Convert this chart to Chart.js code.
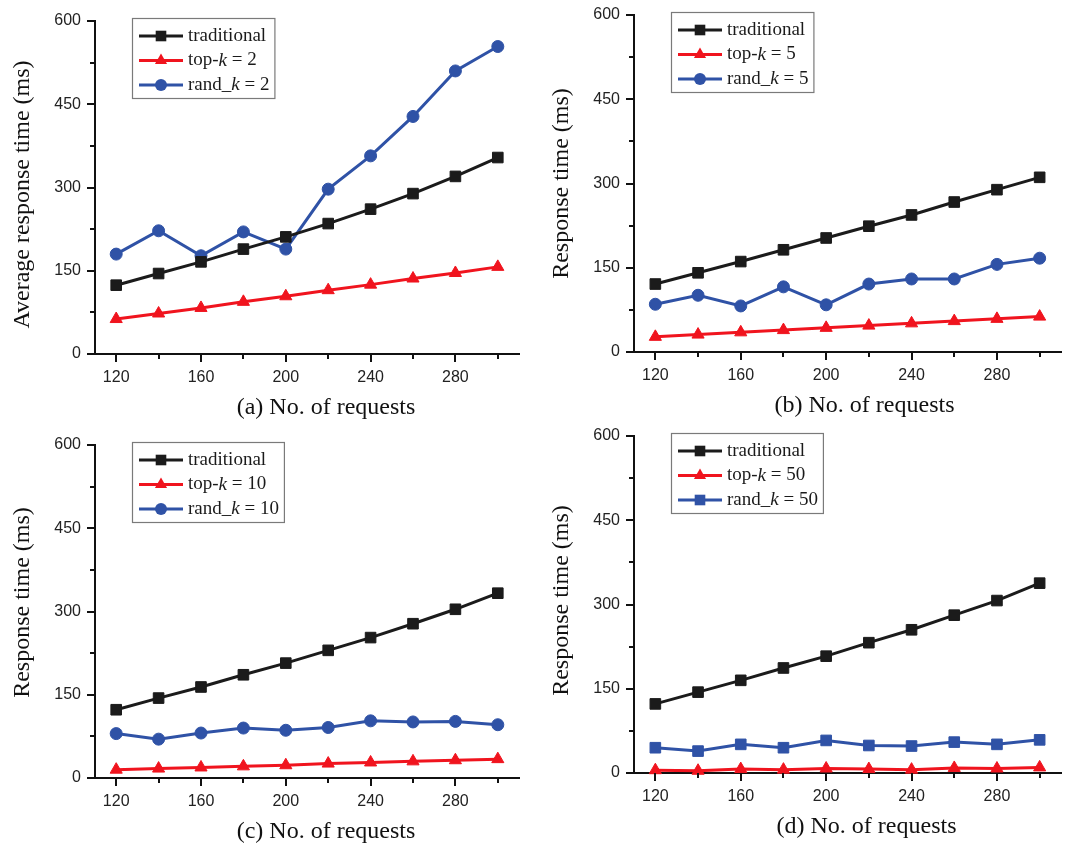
<!DOCTYPE html>
<html>
<head>
<meta charset="utf-8">
<script src="https://cdn.jsdelivr.net/npm/chart.js@4.4.1/dist/chart.umd.min.js"></script>
<style>
  body { margin: 0; background: #fff; }
  #wrap { position: relative; width: 1078px; height: 844px; }
  canvas { position: absolute; }
</style>
</head>
<body>
<div id="wrap">
  <canvas id="ca" width="539" height="420" style="left:0;top:0"></canvas>
  <canvas id="cb" width="539" height="420" style="left:539px;top:0"></canvas>
  <canvas id="cc" width="539" height="424" style="left:0;top:420px"></canvas>
  <canvas id="cd" width="539" height="424" style="left:539px;top:420px"></canvas>
</div>
<script>
// x values (no. of requests) and axis ticks
const requests = [120, 140, 160, 180, 200, 220, 240, 260, 280, 300];
const xTicks = [120, 140, 160, 180, 200, 220, 240, 260, 280, 300];
const yTicks = [0, 75, 150, 225, 300, 375, 450, 525, 600];

// (a) k = 2
const tradA = [124, 145, 166, 189, 211, 235, 261, 289, 320, 354];
const topA  = [63, 73, 83, 94, 104, 115, 125, 136, 146, 157];
const randA = [180, 222, 177, 220, 189, 297, 357, 428, 510, 554];
// (b) k = 5
const tradB = [121, 141, 161, 182, 203, 224, 244, 267, 289, 311];
const topB  = [27, 31, 35, 39, 43, 47, 51, 55, 59, 63];
const randB = [85, 101, 82, 116, 84, 121, 130, 130, 156, 167];
// (c) k = 10
const tradC = [123, 144, 164, 186, 207, 230, 253, 278, 304, 333];
const topC  = [15, 17, 19, 21, 23, 26, 28, 30, 32, 34];
const randC = [80, 70, 81, 90, 86, 91, 103, 101, 102, 96];
// (d) k = 50
const tradD = [123, 144, 165, 187, 208, 232, 255, 281, 307, 338];
const topD  = [5, 4, 7, 6, 8, 7, 6, 9, 8, 10];
const randD = [45, 39, 51, 45, 58, 49, 48, 55, 51, 59];

const BLACK = '#1b1b1b', RED = '#f0141e', BLUE = '#2f52a6';
const SERIF = '"Liberation Serif", "Times New Roman", serif';

function splitLabel(t) {
  const m = t.match(/^(.*[-_])k( = .*)$/);
  if (!m) return [{ t: t, it: false }];
  return [{ t: m[1], it: false }, { t: 'k', it: true }, { t: m[2], it: false }];
}

function drawMarker(ctx, style, r, x, y, color) {
  ctx.fillStyle = color;
  ctx.beginPath();
  if (style === 'rect') {
    const s = r * Math.SQRT1_2;
    ctx.rect(x - s, y - s, 2 * s, 2 * s);
  } else if (style === 'triangle') {
    let a = 0;
    ctx.moveTo(x + Math.sin(a) * r, y - Math.cos(a) * r);
    a += 2 * Math.PI / 3;
    ctx.lineTo(x + Math.sin(a) * r, y - Math.cos(a) * r);
    a += 2 * Math.PI / 3;
    ctx.lineTo(x + Math.sin(a) * r, y - Math.cos(a) * r);
    ctx.closePath();
  } else {
    ctx.arc(x, y, r, 0, Math.PI * 2);
  }
  ctx.fill();
}

// outward tick marks (long at labelled values) and the two axis titles
const frame = {
  id: 'frame',
  afterDraw(chart, args, o) {
    const ctx = chart.ctx, a = chart.chartArea, xs = chart.scales.x, ys = chart.scales.y;
    ctx.save();
    ctx.strokeStyle = '#111';
    ctx.lineWidth = 2;
    ctx.beginPath();
    xTicks.forEach(v => {
      const px = Math.round(xs.getPixelForValue(v));
      ctx.moveTo(px, a.bottom);
      ctx.lineTo(px, a.bottom + (v % 40 === 0 ? 8 : 5));
    });
    yTicks.forEach(v => {
      const py = Math.round(ys.getPixelForValue(v));
      ctx.moveTo(a.left, py);
      ctx.lineTo(a.left - (v % 150 === 0 ? 8 : 5), py);
    });
    ctx.stroke();
    ctx.fillStyle = '#111';
    ctx.font = '24px ' + SERIF;
    ctx.textAlign = 'center';
    ctx.textBaseline = 'alphabetic';
    ctx.fillText(o.xTitle, (a.left + a.right) / 2 + o.xdx, a.bottom + 60);
    ctx.translate(29, (a.top + a.bottom) / 2 + o.ydy);
    ctx.rotate(-Math.PI / 2);
    ctx.fillText(o.yTitle, 0, 0);
    ctx.restore();
  }
};

// legend in a grey box, drawn inside the plot area
const boxLegend = {
  id: 'boxLegend',
  afterDraw(chart, args, opts) {
    const ctx = chart.ctx, area = chart.chartArea;
    const x0 = area.left + opts.dx, y0 = area.top + opts.dy;
    const font = '19px ' + SERIF, ifont = 'italic 19px ' + SERIF;
    const parts = chart.data.datasets.map(ds => splitLabel(ds.label));
    ctx.save();
    let maxW = 0;
    parts.forEach(pp => {
      let w = 0;
      pp.forEach(seg => { ctx.font = seg.it ? ifont : font; w += ctx.measureText(seg.t).width; });
      maxW = Math.max(maxW, w);
    });
    const w = 56 + maxW + 5, h = 80;
    ctx.fillStyle = '#fff';
    ctx.fillRect(x0, y0, w, h);
    ctx.strokeStyle = '#7a7a7a';
    ctx.lineWidth = 1.2;
    ctx.strokeRect(x0 + 0.5, y0 + 0.5, w, h);
    chart.data.datasets.forEach((ds, i) => {
      const cy = y0 + 18 + i * 24.5;
      ctx.strokeStyle = ds.borderColor;
      ctx.lineWidth = 3;
      ctx.beginPath();
      ctx.moveTo(x0 + 7, cy);
      ctx.lineTo(x0 + 51, cy);
      ctx.stroke();
      drawMarker(ctx, ds.pointStyle, ds.pointRadius, x0 + 29, cy, ds.borderColor);
      let tx = x0 + 56;
      ctx.fillStyle = '#1a1a1a';
      ctx.textBaseline = 'middle';
      ctx.textAlign = 'left';
      parts[i].forEach(seg => {
        ctx.font = seg.it ? ifont : font;
        ctx.fillText(seg.t, tx, cy);
        tx += ctx.measureText(seg.t).width;
      });
    });
    ctx.restore();
  }
};

const panels = [
  { id: 'ca', k: 2, trad: tradA, top: topA, rand: randA, randStyle: 'circle',
    yTitle: 'Average response time (ms)', xTitle: '(a) No. of requests',
    w: 539, h: 420, box: { left: 95, top: 21, right: 519, bottom: 354 }, xdx: 19, ydy: 7 },
  { id: 'cb', k: 5, trad: tradB, top: topB, rand: randB, randStyle: 'circle',
    yTitle: 'Response time (ms)', xTitle: '(b) No. of requests',
    w: 539, h: 420, box: { left: 95, top: 15, right: 522, bottom: 352 }, xdx: 17, ydy: 0 },
  { id: 'cc', k: 10, trad: tradC, top: topC, rand: randC, randStyle: 'circle',
    yTitle: 'Response time (ms)', xTitle: '(c) No. of requests',
    w: 539, h: 424, box: { left: 95, top: 25, right: 519, bottom: 358 }, xdx: 19, ydy: -9 },
  { id: 'cd', k: 50, trad: tradD, top: topD, rand: randD, randStyle: 'rect',
    yTitle: 'Response time (ms)', xTitle: '(d) No. of requests',
    w: 539, h: 424, box: { left: 95, top: 16, right: 522, bottom: 353 }, xdx: 19, ydy: -4 }
];

function makeChart(p) {
  const series = [
    { label: 'traditional', data: p.trad, color: BLACK, style: 'rect', r: 7.5 },
    { label: 'top-k = ' + p.k, data: p.top, color: RED, style: 'triangle', r: 7 },
    { label: 'rand_k = ' + p.k, data: p.rand, color: BLUE, style: p.randStyle, r: p.randStyle === 'rect' ? 7.5 : 6 }
  ];
  const tickFont = { family: '"Liberation Sans", Arial', size: 16 };
  new Chart(document.getElementById(p.id), {
    type: 'line',
    data: {
      datasets: series.map(s => ({
        label: s.label,
        data: requests.map((x, i) => ({ x: x, y: s.data[i] })),
        borderColor: s.color,
        backgroundColor: s.color,
        borderWidth: 3,
        pointStyle: s.style,
        pointRadius: s.r,
        pointBorderWidth: 1,
        pointBackgroundColor: s.color,
        pointBorderColor: s.color,
        tension: 0,
        clip: false
      }))
    },
    options: {
      responsive: false,
      animation: false,
      devicePixelRatio: 1,
      layout: { padding: { top: p.box.top, right: p.w - p.box.right, left: 0, bottom: 0 } },
      plugins: {
        legend: { display: false },
        tooltip: { enabled: false },
        boxLegend: { dx: 37, dy: -3 },
        frame: { xTitle: p.xTitle, yTitle: p.yTitle, xdx: p.xdx, ydy: p.ydy }
      },
      scales: {
        x: {
          type: 'linear', min: 110, max: 310,
          afterBuildTicks: s => { s.ticks = xTicks.map(v => ({ value: v })); },
          afterFit: s => { s.height = p.h - p.box.bottom; s.paddingLeft = 0; s.paddingRight = 0; },
          ticks: {
            autoSkip: false, maxRotation: 0, padding: 14, color: '#222', font: tickFont,
            callback: v => (v % 40 === 0 ? String(v) : '')
          },
          grid: { drawOnChartArea: false, drawTicks: false },
          border: { color: '#111', width: 2 }
        },
        y: {
          min: 0, max: 600,
          afterBuildTicks: s => { s.ticks = yTicks.map(v => ({ value: v })); },
          afterFit: s => { s.width = p.box.left; s.paddingTop = 0; s.paddingBottom = 0; },
          ticks: {
            padding: 14, color: '#222', font: tickFont,
            callback: v => (v % 150 === 0 ? String(v) : '')
          },
          grid: { drawOnChartArea: false, drawTicks: false },
          border: { color: '#111', width: 2 }
        }
      }
    },
    plugins: [frame, boxLegend]
  });
}

panels.forEach(makeChart);
</script>
</body>
</html>
